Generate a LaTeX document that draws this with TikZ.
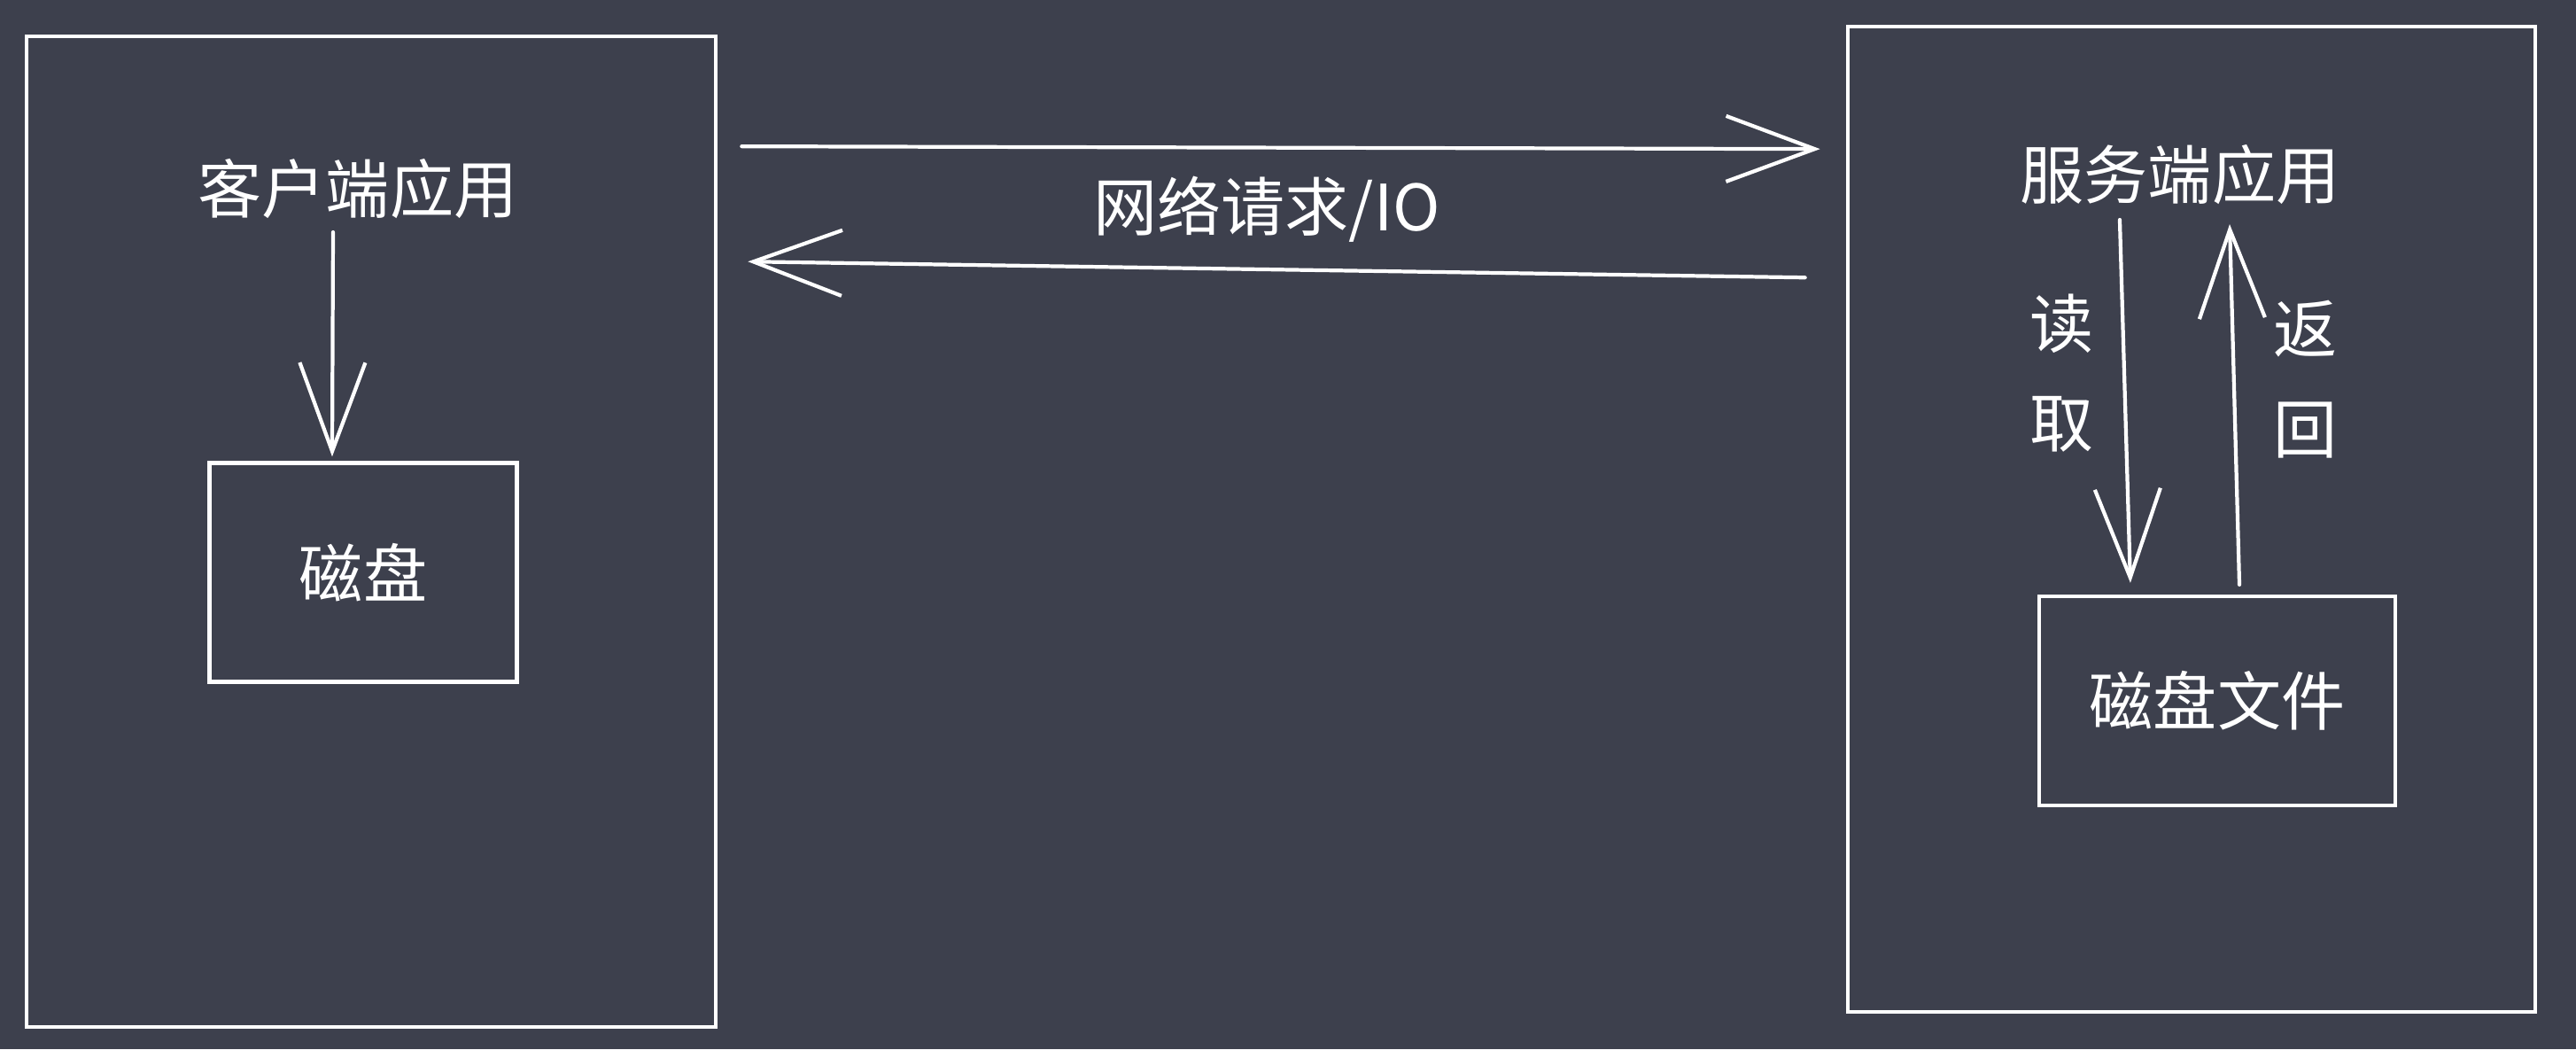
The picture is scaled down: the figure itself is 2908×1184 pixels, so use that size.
\documentclass[tikz,border=0pt]{standalone}
\usepackage{fontspec}
\setmainfont{Noto Sans CJK SC}
\usepackage{tikz}
\usetikzlibrary{arrows.meta,positioning}
\definecolor{bgcolor}{RGB}{61,64,77}

\begin{document}
\begin{tikzpicture}[
  x=0.01cm,
  y=-0.01cm,
  every node/.style={text=white, font=\fontsize{20.5}{32}\selectfont},
  frame/.style={draw=white, line width=1.2pt, inner sep=0pt},
  arr/.style={draw=white, line width=1.2pt, line cap=round,
    -{Straight Barb[length=1cm, width=0.74cm]}}
]
  \useasboundingbox[fill=bgcolor] (0,0) rectangle (2908,1184);

  % client side
  \node[frame, minimum width=7.78cm, minimum height=11.17cm] (client) at (419,600) {};
  \node (clientapp) at (404,213) {客户端应用};
  \node[frame, minimum width=3.47cm, minimum height=2.47cm] (disk) at (410,646) {磁盘};

  % server side
  \node[frame, minimum width=7.76cm, minimum height=11.11cm] (server) at (2474,586) {};
  \node (serverapp) at (2461,197) {服务端应用};
  \node[frame, minimum width=4.02cm, minimum height=2.36cm] (file) at (2503,791) {磁盘文件};
  \node[align=center] (read) at (2328,421) {读\\取};
  \node[align=center] (back) at (2603,428) {返\\回};

  \node (net) at (1430,236) {网络请求/IO};

  \draw[arr] ([xshift=-0.28cm,yshift=-0.49cm]clientapp.center) -- ([xshift=-0.35cm,yshift=0.05cm]disk.north);
  \draw[arr] ([xshift=0.27cm,yshift=-1.26cm]client.north east) -- ([xshift=-0.29cm,yshift=-1.40cm]server.north west);
  \draw[arr] ([xshift=-0.46cm,yshift=-2.85cm]server.north west) -- ([xshift=0.34cm,yshift=-2.56cm]client.north east);
  \draw[arr] ([xshift=-0.68cm,yshift=-0.51cm]serverapp.center) -- ([xshift=-0.98cm,yshift=0.13cm]file.north);
  \draw[arr] ([xshift=0.25cm,yshift=0.11cm]file.north) -- ([xshift=0.56cm,yshift=-0.56cm]serverapp.center);
\end{tikzpicture}
\end{document}
